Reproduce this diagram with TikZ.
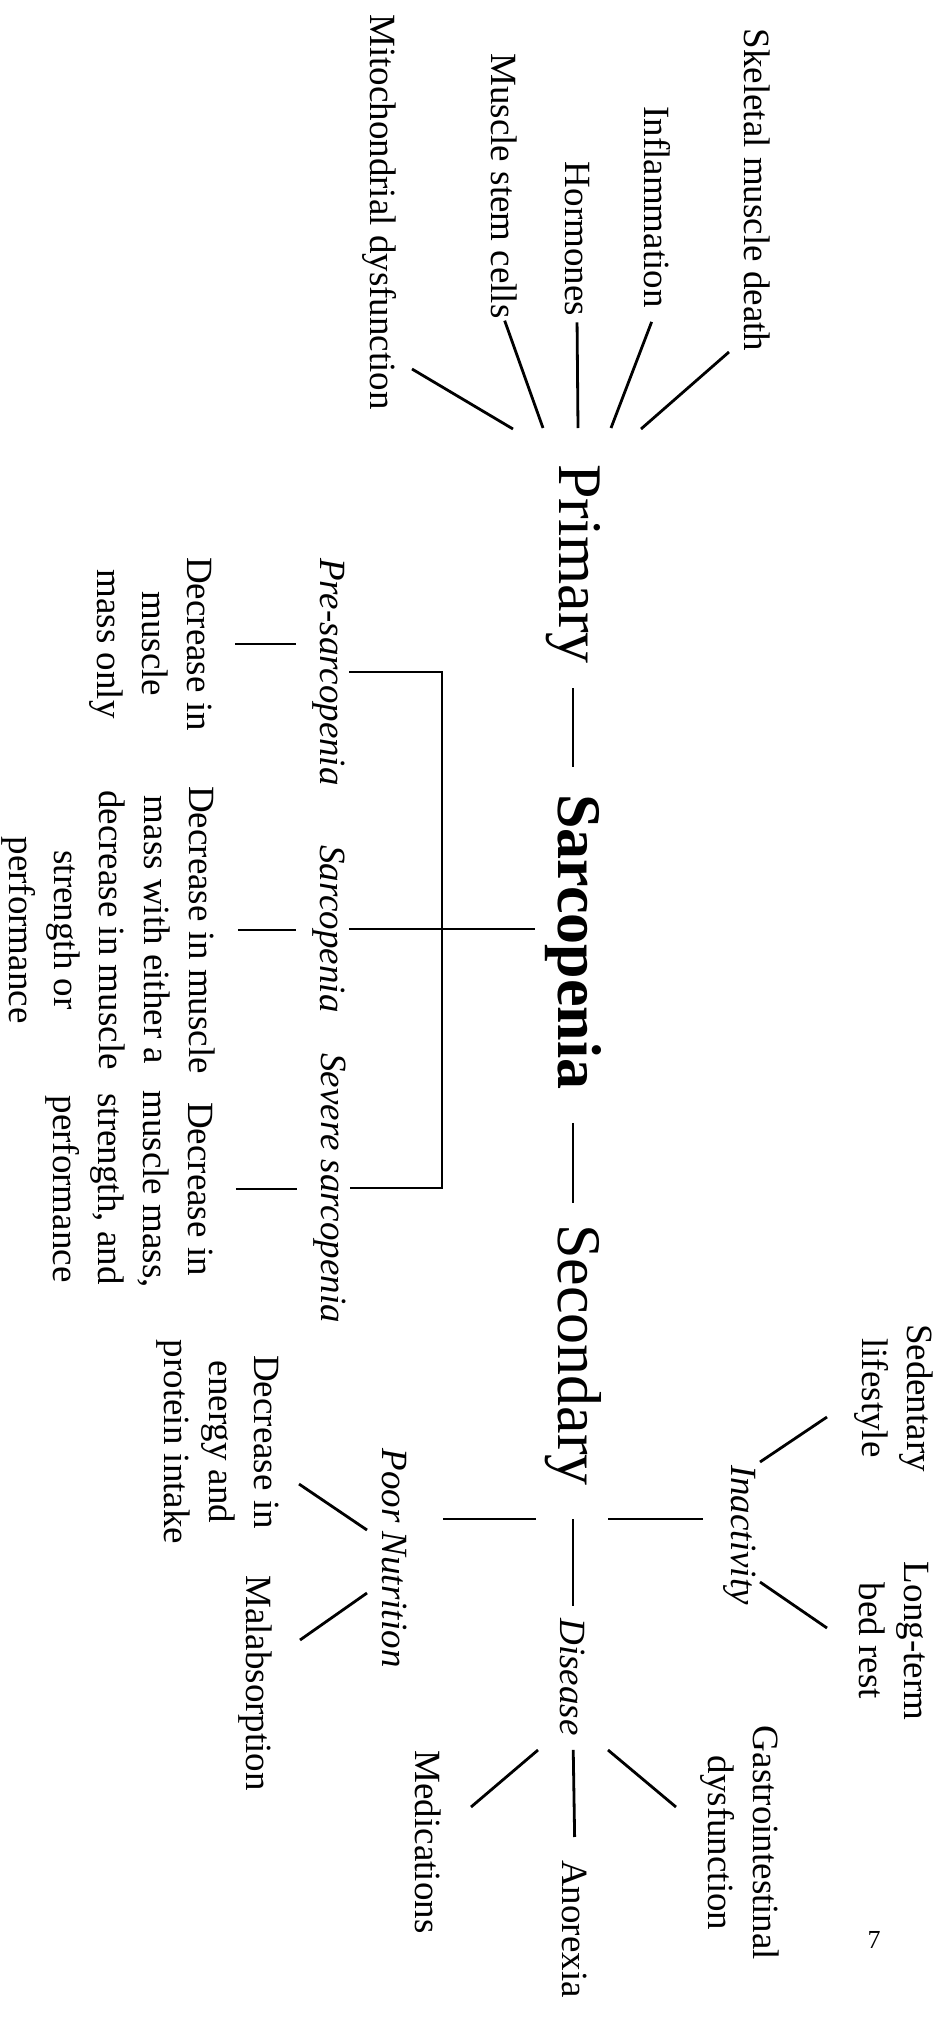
\documentclass[tikz,border=0pt]{standalone}
\usepackage{fontspec}
\setmainfont{Liberation Serif}

\begin{document}
\begin{tikzpicture}[x=1pt,y=-1pt,
        every node/.style={inner sep=0pt},
        big/.style={rotate=-90,font=\fontsize{62}{70}\selectfont},
        bigb/.style={rotate=-90,font=\fontsize{62}{70}\selectfont\bfseries},
        txt/.style={rotate=-90,font=\fontsize{37}{45}\selectfont,align=center},
        cat/.style={rotate=-90,font=\fontsize{37}{45}\selectfont\itshape},
        link/.style={line width=2.8pt}]

    \useasboundingbox (0,0) rectangle (945,2021);

    \node[big]  (prim) at (573,564)  {Primary};
    \node[bigb] (sarc) at (573,942)  {Sarcopenia};
    \node[big]  (sec)  at (573,1355) {Secondary};

    \draw[link,shorten <=24pt,shorten >=27pt] (prim.east) -- (sarc.west);
    \draw[link,shorten <=33pt,shorten >=21pt] (sarc.east) -- (sec.west);

    \node[txt] (skel) at (757,190) {Skeletal muscle death};
    \node[txt] (infl) at (657,207) {Inflammation};
    \node[txt] (horm) at (577,239) {Hormones};
    \node[txt] (stem) at (504,186) {Muscle stem cells};
    \node[txt] (mito) at (380,212) {Mitochondrial dysfunction};

    \coordinate (pf1) at (513,429);
    \coordinate (pf2) at (543,428);
    \coordinate (pf3) at (578,428);
    \coordinate (pf4) at (611,428);
    \coordinate (pf5) at (641,429);
    \coordinate (mitoend) at (412,369);
    \coordinate (skelend) at (729,352);

    \draw[link] (mitoend) -- (pf1);
    \draw[link,shorten <=2pt] (stem.east) -- (pf2);
    \draw[link,shorten <=6pt] (horm.east) -- (pf3);
    \draw[link,shorten <=15pt] (infl.east) -- (pf4);
    \draw[link] (skelend) -- (pf5);

    \node[cat] (pre) at (329,672)  {Pre-sarcopenia};
    \node[cat] (sit) at (329,929)  {Sarcopenia};
    \node[cat] (sev) at (330,1188) {Severe sarcopenia};

    \coordinate (brk1) at (442,672);
    \coordinate (brk2) at (442,1188);

    \draw[link,shorten <=4pt,shorten >=4pt] (pre.north) -- (brk1) -- (brk2) -- (sev.north);
    \draw[link,shorten <=4pt,shorten >=10pt] (sit.north) -- (sit.north -| sarc.south);

    \node[txt] (predesc)  at (151,644)  {Decrease in\\muscle\\mass only};
    \node[txt] (sarcdesc) at (108,930)  {Decrease in muscle\\mass with either a\\decrease in muscle\\strength or\\performance};
    \node[txt] (sevdesc)  at (129,1189) {Decrease in\\muscle mass,\\strength, and\\performance};

    \draw[link,shorten <=23pt,shorten >=17pt] (predesc.north) -- (predesc.north -| pre.south);
    \draw[link,shorten <=23pt,shorten >=17pt] (sarcdesc.north) -- (sarcdesc.north -| sit.south);
    \draw[link,shorten <=23pt,shorten >=17pt] (sevdesc.north) -- (sevdesc.north -| sev.south);

    \node[cat] (inact) at (740,1535) {Inactivity};
    \node[cat] (poor)  at (395,1558) {Poor Nutrition};
    \node[cat] (dis)   at (573,1677) {Disease};
    \node[txt] (anor)  at (575,1929) {Anorexia};

    \coordinate (hub) at (573,1519);

    \draw[link,shorten <=37pt,shorten >=35pt] (hub) -- (hub -| poor.north);
    \draw[link,shorten <=35pt,shorten >=21pt] (hub) -- (hub -| inact.south);
    \draw[link,shorten >=12pt] (hub) -- (dis.west);
    \draw[link,shorten <=14pt,shorten >=23pt] (dis.east) -- (anor.west);

    \node[txt] (sed)  at (894,1398) {Sedentary\\lifestyle};
    \node[txt] (bed)  at (894,1641) {Long-term\\bed rest};
    \node[txt] (gast) at (740,1843) {Gastrointestinal\\dysfunction};
    \node[txt] (med)  at (428,1842) {Medications};
    \node[txt] (food) at (218,1442) {Decrease in\\energy and\\protein intake};
    \node[txt] (mal)  at (255,1683) {Malabsorption};

    \coordinate (ia1) at (760,1462);
    \coordinate (ia2) at (827,1417);
    \coordinate (ib1) at (760,1582);
    \coordinate (ib2) at (827,1628);
    \coordinate (da1) at (538,1750);
    \coordinate (da2) at (471,1807);
    \coordinate (db1) at (608,1750);
    \coordinate (db2) at (676,1807);
    \coordinate (na1) at (367,1530);
    \coordinate (na2) at (299,1484);
    \coordinate (nb1) at (367,1593);
    \coordinate (nb2) at (300,1640);

    \draw[link] (ia1) -- (ia2);
    \draw[link] (ib1) -- (ib2);
    \draw[link] (da1) -- (da2);
    \draw[link] (db1) -- (db2);
    \draw[link] (na1) -- (na2);
    \draw[link] (nb1) -- (nb2);

    \node[font=\fontsize{26}{30}\selectfont] (page) at (874,1940) {7};
\end{tikzpicture}
\end{document}
